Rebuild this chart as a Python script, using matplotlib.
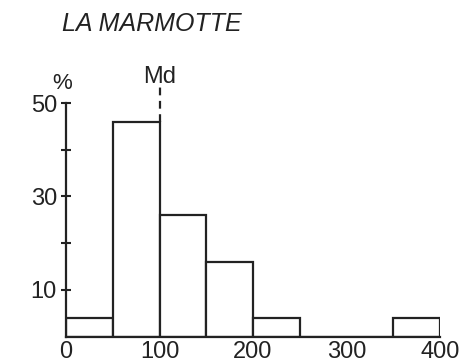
import matplotlib.pyplot as plt
import numpy as np

# class bins (left edges) and percentages
bin_left = [0, 50, 100, 150, 200, 250, 300, 350]
bin_width = 50
percent = [4, 46, 26, 16, 4, 0, 0, 4]
x_ticks = [0, 100, 200, 300, 400]
y_ticks = [10, 20, 30, 40, 50]
y_labels = ['10', '', '30', '', '50']
median = 100

plt.rcParams['font.family'] = ['Liberation Sans', 'DejaVu Sans']

W, H = 459, 363
ink = '#222222'
fig = plt.figure(figsize=(W / 100, H / 100), dpi=100)
ax = fig.add_axes([66 / W, 1 - 336.7 / H, (440 - 66) / W, (336.7 - 103) / H])

ax.bar(bin_left, percent, width=bin_width, align='edge', facecolor='white',
       edgecolor=ink, linewidth=1.6)

ax.set_xlim(0, 400)
ax.set_ylim(0, 50)
for s in ['top', 'right']:
    ax.spines[s].set_visible(False)
for s in ['left', 'bottom']:
    ax.spines[s].set_linewidth(1.6)
    ax.spines[s].set_color(ink)

ax.set_xticks(x_ticks)
ax.set_xticklabels([str(v) for v in x_ticks])
ax.tick_params(axis='x', length=0, pad=3, labelsize=17, colors=ink)
ax.set_yticks(y_ticks)
ax.set_yticklabels(y_labels)
ax.tick_params(axis='y', direction='inout', length=7, width=1.5,
               labelsize=17, pad=3, colors=ink)
for lab in ax.get_xticklabels() + ax.get_yticklabels():
    lab.set_fontweight('medium')

# median marker
ax.plot([median, median], [46, 53.6], color=ink, lw=1.6,
        linestyle=(0, (3.5, 2.5)), clip_on=False)
ax.text(median, 55.6, 'Md', ha='center', va='center', fontsize=17, color=ink)
ax.text(-4, 54.2, '%', ha='center', va='center', fontsize=16, color=ink)

fig.text(152 / W, 1 - 24 / H, 'LA MARMOTTE', ha='center', va='center',
         fontsize=18, style='italic', color=ink)

fig.savefig('out.png', dpi=100)
